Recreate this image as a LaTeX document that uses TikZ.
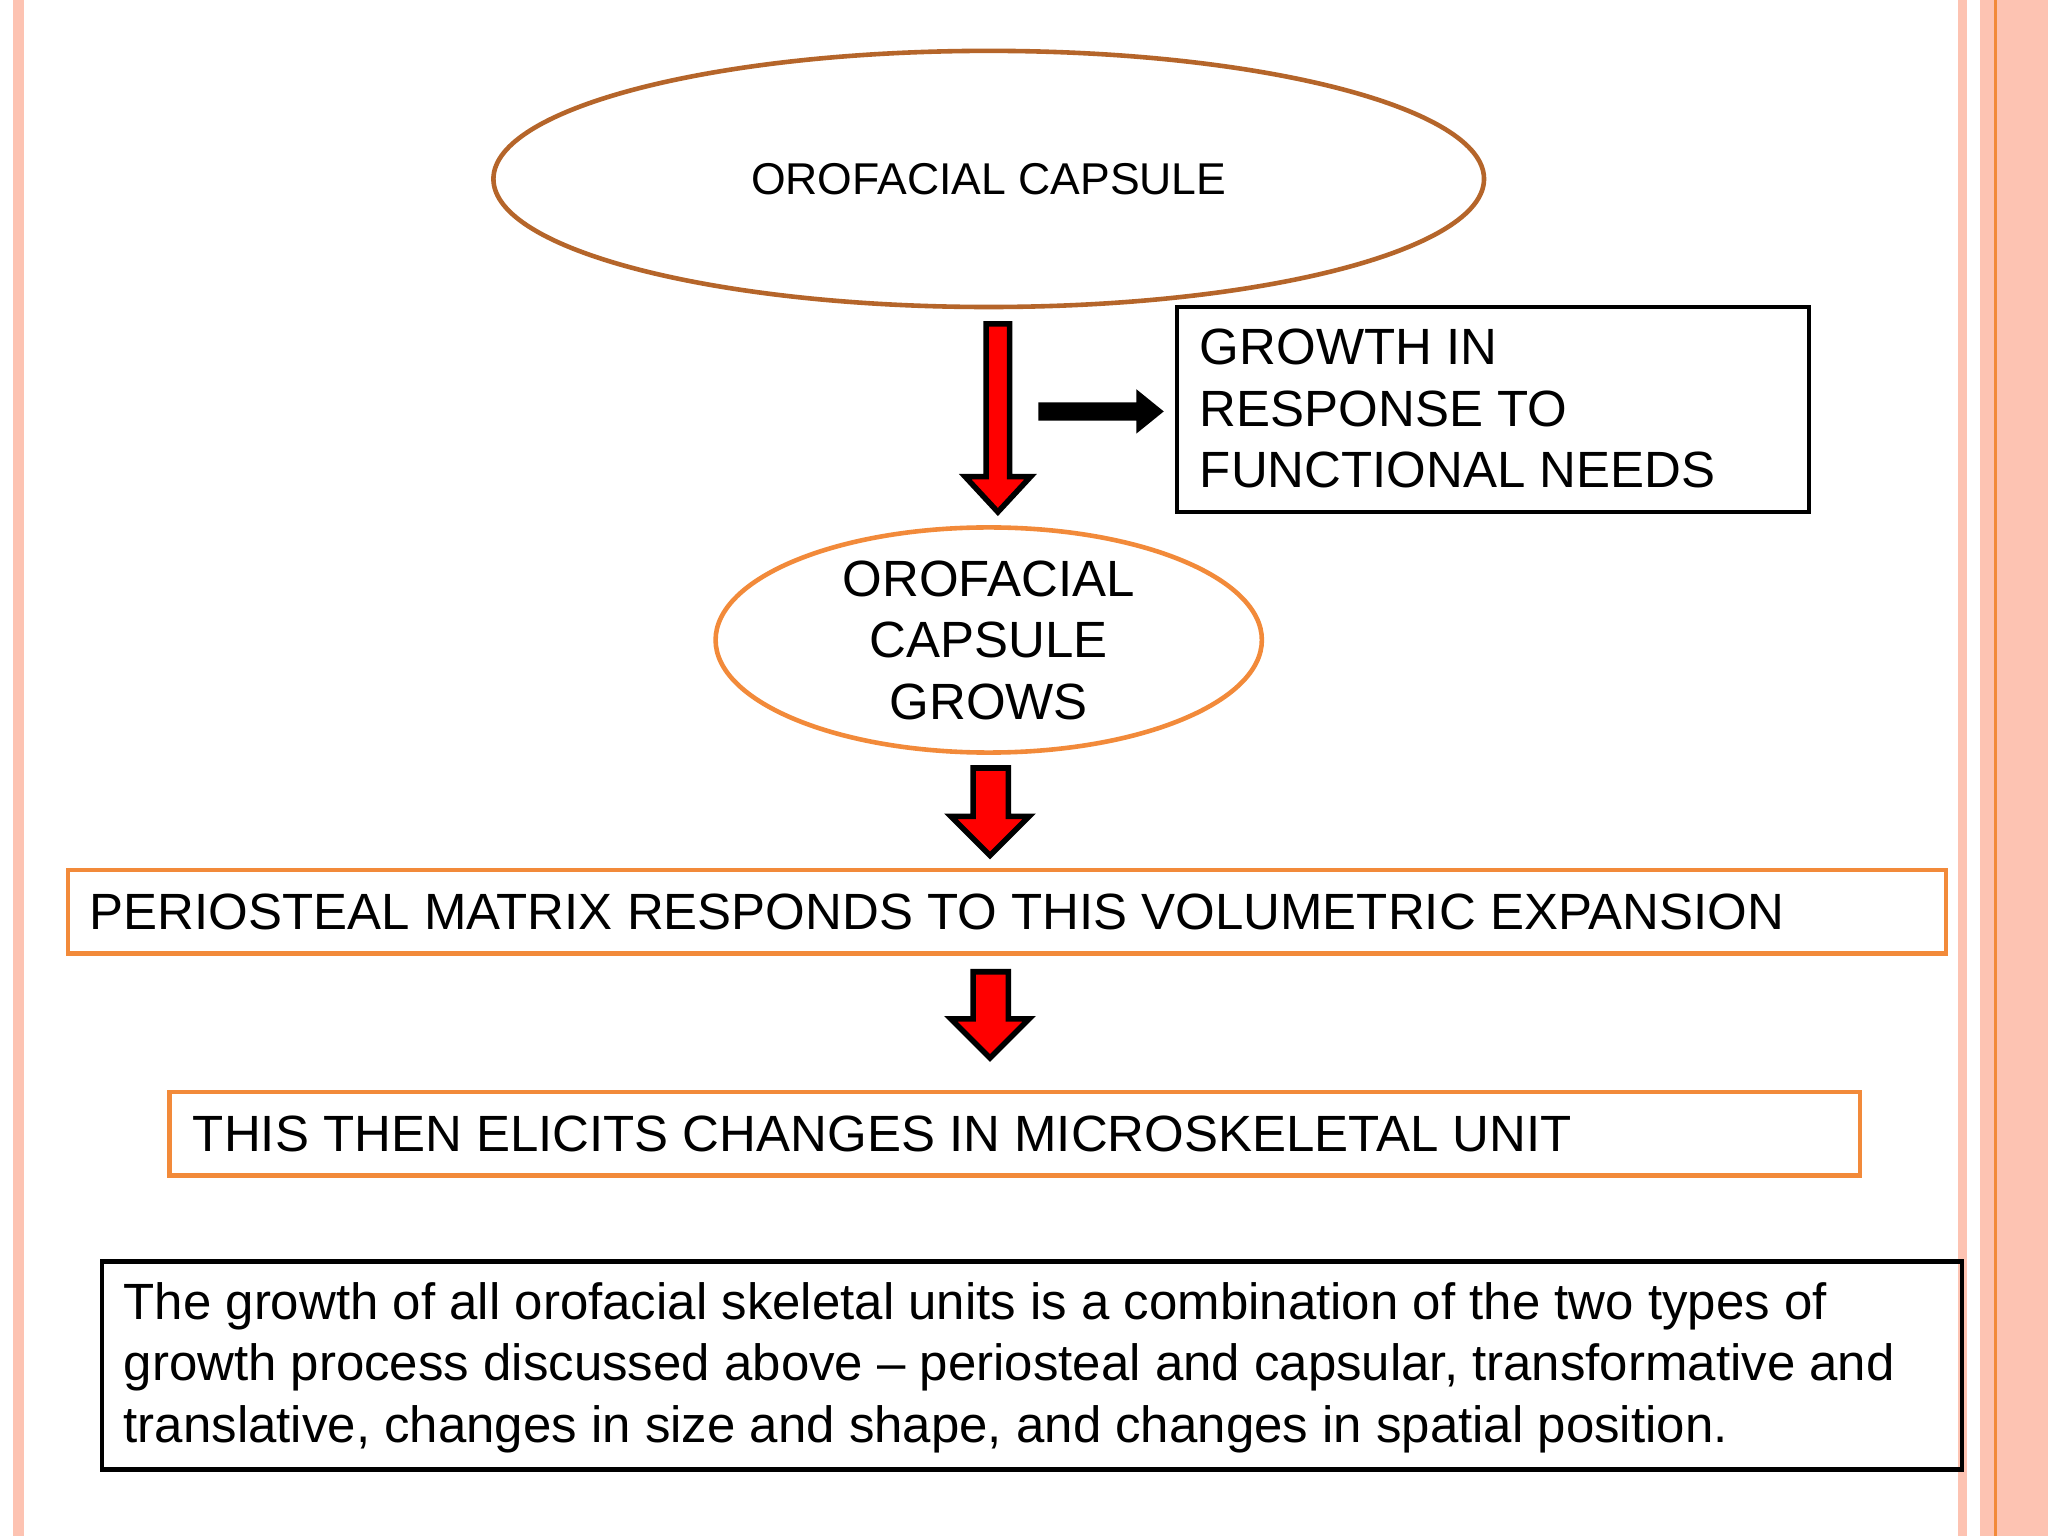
\documentclass[tikz,border=0pt]{standalone}
\usepackage{fontspec}
\setmainfont{Liberation Sans}
\usetikzlibrary{shapes.geometric}
\definecolor{brownline}{HTML}{B5652A}
\definecolor{orangeline}{HTML}{F28A3A}
\definecolor{pinkstripe}{HTML}{FDC3B2}
\begin{document}
\begin{tikzpicture}[x=0.01cm,y=-0.01cm,
  ell/.style={ellipse,draw,line width=1pt,inner sep=0pt,align=center,font=\fontsize{11.1}{13.4}\selectfont},
  obox/.style={draw=orangeline,line width=1pt},
  bbox/.style={draw=black,line width=1pt},
  txt/.style={anchor=west,align=left,inner sep=0pt,font=\fontsize{11.1}{13.4}\selectfont},
  redarrow/.style={fill=red,draw=black,line width=1.2pt,line join=miter}]
\useasboundingbox (0,0) rectangle (1568,1176);
\fill[white] (0,0) rectangle (1568,1176);
% borders
\fill[pinkstripe] (10,0) rectangle (18,1176);
\fill[pinkstripe] (1499,0) rectangle (1506,1176);
\fill[pinkstripe] (1516,0) rectangle (1568,1176);
\fill[orangeline] (1527,0) rectangle (1529,1176);
% ellipses
\node[ell,draw=brownline,minimum width=7.58cm,minimum height=1.96cm,font=\fontsize{9.7}{12}\selectfont] (cap) at (757,137) {OROFACIAL CAPSULE};
\node[ell,draw=orangeline,minimum width=4.18cm,minimum height=1.70cm] (grows) at (757,490) {OROFACIAL\\CAPSULE\\GROWS};
% arrow 1
\draw[redarrow] (755,248) -- (773,248) -- (773,365) -- (789,365) -- (764,392) -- (739,365) -- (755,365) -- cycle;
% black arrow
\coordinate (ba) at (795,315);
\fill[black] (ba) ++(0,-7) -- (870,308) -- (870,298) -- (891,315) -- (870,332) -- (870,322) -- (795,322) -- cycle;
% box growth
\draw[bbox] (901,235) rectangle (1385,392);
\node[txt] (resp) at (918,313) {GROWTH IN\\RESPONSE TO\\FUNCTIONAL NEEDS};
% arrow 2
\draw[redarrow] (745,588) -- (772,588) -- (772,625) -- (788,625) -- (758,655) -- (728,625) -- (745,625) -- cycle;
% box 3
\draw[obox] (52,666) rectangle (1490,730);
\node[txt] (peri) at (68,698) {PERIOSTEAL MATRIX RESPONDS TO THIS VOLUMETRIC EXPANSION};
% arrow 3
\draw[redarrow] (745,744) -- (772,744) -- (772,780) -- (788,780) -- (758,810) -- (728,780) -- (745,780) -- cycle;
% box 4
\draw[obox] (130,836) rectangle (1424,900);
\node[txt] (elic) at (147,868) {THIS THEN ELICITS CHANGES IN MICROSKELETAL UNIT};
% box 5
\draw[bbox] (78,966) rectangle (1502,1125);
\node[txt] (summ) at (94,1047) {The growth of all orofacial skeletal units is a combination of the two types of\\growth process discussed above -- periosteal and capsular, transformative and\\translative, changes in size and shape, and changes in spatial position.};
\end{tikzpicture}
\end{document}
